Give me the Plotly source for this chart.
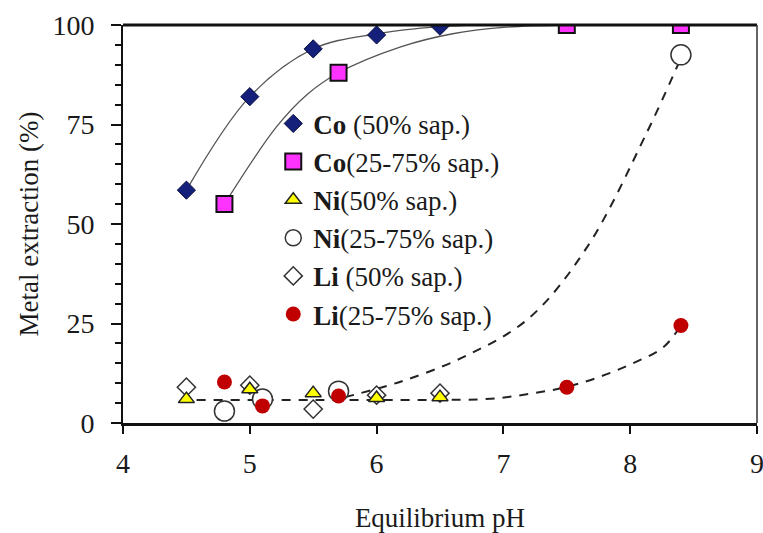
import plotly.graph_objects as go

# ---- data ----
co50_ph = [4.5, 5.0, 5.5, 6.0, 6.5]
co50_ext = [58.5, 82.0, 94.0, 97.5, 99.7]

co2575_ph = [4.8, 5.7, 7.5, 8.4]
co2575_ext = [55.0, 88.0, 100.0, 100.0]

ni50_ph = [4.5, 5.0, 5.5, 6.0, 6.5]
ni50_ext = [6.0, 8.5, 7.5, 6.3, 6.5]

ni2575_ph = [4.8, 5.1, 5.7, 8.4]
ni2575_ext = [3.0, 6.0, 8.0, 92.5]

li50_ph = [4.5, 5.0, 5.5, 6.0, 6.5]
li50_ext = [9.0, 9.5, 3.5, 7.0, 7.5]

li2575_ph = [4.8, 5.1, 5.7, 7.5, 8.4]
li2575_ext = [10.3, 4.3, 6.8, 9.0, 24.5]

# fitted trend curves (anchor points)
co50_fit_x = [4.5, 5.0, 5.5, 6.0, 6.5, 6.8]
co50_fit_y = [58.5, 82.0, 94.0, 97.8, 99.6, 100.0]

co2575_fit_x = [4.8, 5.21, 5.45, 5.7, 6.19, 6.6, 7.0, 7.5, 8.4]
co2575_fit_y = [55.0, 74.4, 82.5, 88.0, 94.5, 97.8, 99.4, 100.0, 100.0]

ni2575_fit_x = [5.75, 6.2, 6.7, 7.2, 7.66, 8.13, 8.39]
ni2575_fit_y = [6.5, 10.5, 16.8, 26.3, 44.2, 72.9, 91.0]

low_fit_x = [4.58, 5.5, 6.4, 6.9, 7.2, 7.49, 7.76, 8.02, 8.26, 8.4]
low_fit_y = [5.8, 5.8, 5.8, 6.1, 7.3, 9.0, 11.6, 15.0, 19.0, 24.5]

FONT = "Liberation Serif"

fig = go.Figure()

# trend lines
fig.add_trace(go.Scatter(x=co50_fit_x, y=co50_fit_y, mode="lines", showlegend=False,
                         line=dict(color="#555555", width=1.3, shape="spline"), hoverinfo="skip"))
fig.add_trace(go.Scatter(x=co2575_fit_x, y=co2575_fit_y, mode="lines", showlegend=False,
                         line=dict(color="#555555", width=1.3, shape="spline"), hoverinfo="skip"))
fig.add_trace(go.Scatter(x=ni2575_fit_x, y=ni2575_fit_y, mode="lines", showlegend=False,
                         line=dict(color="#222222", width=2, dash="9px,8px", shape="spline"), hoverinfo="skip"))
fig.add_trace(go.Scatter(x=low_fit_x, y=low_fit_y, mode="lines", showlegend=False,
                         line=dict(color="#222222", width=2, dash="9px,8px", shape="spline"), hoverinfo="skip"))

# markers (drawing order chosen to match overlaps; legend order via legendrank)
fig.add_trace(go.Scatter(x=co50_ph, y=co50_ext, mode="markers", name="<b>Co</b> (50% sap.)", legendrank=1,
                         marker=dict(symbol="diamond", size=14, color="#14207a",
                                     line=dict(color="#0a0f40", width=1))))
fig.add_trace(go.Scatter(x=co2575_ph, y=co2575_ext, mode="markers", name="<b>Co</b>(25-75% sap.)", legendrank=2,
                         marker=dict(symbol="square", size=16, color="#ff33ff",
                                     line=dict(color="#111111", width=2))))
fig.add_trace(go.Scatter(x=li50_ph, y=li50_ext, mode="markers", name="<b>Li</b> (50% sap.)", legendrank=5,
                         marker=dict(symbol="diamond", size=14, color="white",
                                     line=dict(color="#333333", width=1.5))))
fig.add_trace(go.Scatter(x=ni2575_ph, y=ni2575_ext, mode="markers", name="<b>Ni</b>(25-75% sap.)", legendrank=4,
                         marker=dict(symbol="circle", size=20, color="white",
                                     line=dict(color="#333333", width=1.5))))
fig.add_trace(go.Scatter(x=ni50_ph, y=ni50_ext, mode="markers", name="<b>Ni</b>(50% sap.)", legendrank=3,
                         marker=dict(symbol="triangle-up", size=14, color="#ffff00",
                                     line=dict(color="#222222", width=1.5))))
fig.add_trace(go.Scatter(x=li2575_ph, y=li2575_ext, mode="markers", name="<b>Li</b>(25-75% sap.)", legendrank=6,
                         marker=dict(symbol="circle", size=15, color="#c00000",
                                     line=dict(color="#c00000", width=0))))

fig.update_layout(
    width=763, height=533,
    margin=dict(l=123, r=6, t=25, b=110, autoexpand=False),
    paper_bgcolor="white", plot_bgcolor="white",
    font=dict(family=FONT, size=28, color="#1a1a1a"),
    legend=dict(x=0.237, y=0.813, xanchor="left", yanchor="top",
                bgcolor="rgba(0,0,0,0)", font=dict(family=FONT, size=27, color="#1a1a1a"),
                tracegroupgap=0, itemsizing="trace"),
    xaxis=dict(range=[4, 9], tickvals=[4, 5, 6, 7, 8, 9], ticks="outside", ticklen=8,
               tickwidth=2, tickcolor="#111111", showline=True, linewidth=3, linecolor="#111111",
               showgrid=False, zeroline=False, ticklabelstandoff=5, automargin=False,
               ticklabeloverflow="allow",
               title=dict(text="Equilibrium pH", standoff=31, font=dict(size=27))),
    yaxis=dict(range=[0, 100], tickvals=[0, 25, 50, 75, 100], ticks="outside", ticklen=10,
               tickwidth=2, tickcolor="#111111", showline=True, linewidth=2, linecolor="#111111",
               showgrid=False, zeroline=False, ticklabelstandoff=11, automargin=False,
               ticklabeloverflow="allow",
               minor=dict(dtick=5, ticks="outside", ticklen=6, tickwidth=2, tickcolor="#111111"),
               title=dict(text="Metal extraction (%)", standoff=6, font=dict(size=27))),
    shapes=[
        dict(type="line", xref="paper", yref="paper", x0=0, x1=1, y0=1, y1=1,
             line=dict(color="#111111", width=3)),
        dict(type="line", xref="paper", yref="paper", x0=1, x1=1, y0=0, y1=1,
             line=dict(color="#333333", width=1.5)),
    ],
)

# remove the browser's default 8px body margin so the figure fills the window exactly
fig.write_html("out.html", config={"displayModeBar": False},
               post_script="document.body.style.margin='0px';")
